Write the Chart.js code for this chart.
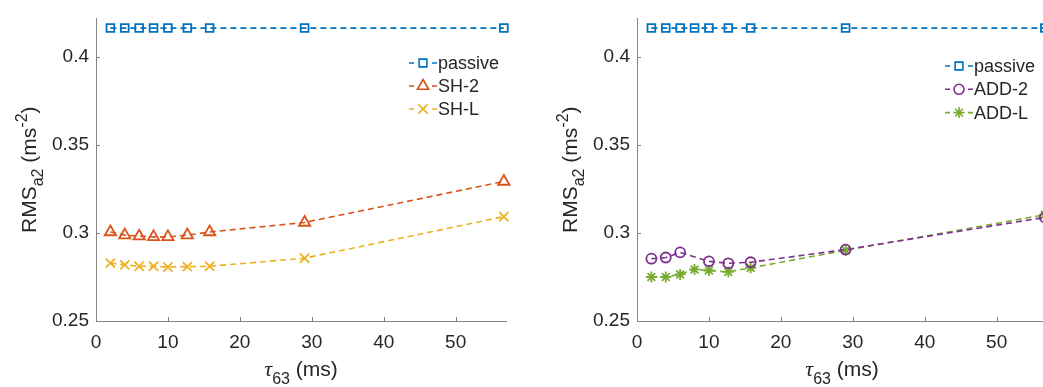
<!DOCTYPE html>
<html>
<head>
<meta charset="utf-8">
<script src="https://cdn.jsdelivr.net/npm/chart.js@4.4.1/dist/chart.umd.min.js"></script>
<style>
  html, body { margin: 0; padding: 0; background: #fff; }
  #wrap { position: relative; width: 1043px; height: 387px; overflow: hidden; }
  canvas { position: absolute; top: 0; }
  #left { left: 0; }
  #right { left: 541px; }
</style>
</head>
<body>
<div id="wrap">
  <canvas id="left" width="541" height="387"></canvas>
  <canvas id="right" width="541" height="387"></canvas>
</div>
<script>
// tau_63 (ms) values where each controller was evaluated
const tau = [2, 4, 6, 8, 10, 12.7, 15.8, 29, 56.7];

// RMS of a2 (m s^-2)
const passive = [0.4165, 0.4165, 0.4165, 0.4165, 0.4165, 0.4165, 0.4165, 0.4165, 0.4165];
const sh2 = [0.3006, 0.2988, 0.2982, 0.2978, 0.2978, 0.2988, 0.3006, 0.306, 0.3293];
const shL = [0.2829, 0.2819, 0.2811, 0.2811, 0.2807, 0.2809, 0.2811, 0.2857, 0.3093];
const add2 = [0.2854, 0.2861, 0.289, null, 0.2839, 0.2828, 0.2834, 0.2906, 0.3089];
const addL = [0.275, 0.275, 0.2765, 0.2793, 0.2787, 0.2779, 0.2802, 0.2902, 0.3104];

const xTicks = [0, 10, 20, 30, 40, 50];
const yTicks = [0.25, 0.3, 0.35, 0.4];

const FONT = '"Liberation Sans", Arial, Helvetica, sans-serif';
const INK = "#262626";
const AXIS = "#858585";

const C = {
  blue: "#0072BD",
  orange: "#D95319",
  yellow: "#EDB120",
  purple: "#7E2F8E",
  green: "#77AC30",
};

function pts(ys) {
  return tau.map((x, i) => ({ x, y: ys[i] }));
}

function series(label, ys, color, style, radius) {
  return {
    label,
    data: pts(ys),
    borderColor: color,
    backgroundColor: "rgba(0,0,0,0)",
    borderWidth: 1.6,
    borderDash: [6, 4],
    pointStyle: style,
    pointRadius: radius,
    pointBorderWidth: 1.8,
    pointBorderColor: color,
    pointBackgroundColor: "rgba(0,0,0,0)",
    tension: 0,
    spanGaps: true,
    clip: false,
  };
}

function axes() {
  return {
    x: {
      type: "linear",
      min: 0,
      max: 57,
      afterBuildTicks: (s) => { s.ticks = xTicks.map((v) => ({ value: v })); },
      afterFit: (s) => { s.height = 66; },
      grid: { display: false, drawTicks: false },
      border: { display: true, color: AXIS, width: 1 },
      ticks: {
        color: INK,
        font: { family: FONT, size: 19 },
        padding: 10,
        maxRotation: 0,
        autoSkip: false,
        callback: (v) => String(v),
      },
    },
    y: {
      type: "linear",
      min: 0.25,
      max: 0.422,
      afterBuildTicks: (s) => { s.ticks = yTicks.map((v) => ({ value: v })); },
      afterFit: (s) => { s.width = 96; },
      grid: { display: false, drawTicks: false },
      border: { display: true, color: AXIS, width: 1 },
      ticks: {
        color: INK,
        font: { family: FONT, size: 19 },
        padding: 7,
        autoSkip: false,
        callback: (v) => String(+v.toFixed(2)),
      },
    },
  };
}

function richText(ctx, parts, cx, y) {
  let w = 0;
  parts.forEach((p) => {
    ctx.font = p.font;
    p.w = ctx.measureText(p.t).width;
    w += p.w;
  });
  let x = cx - w / 2;
  ctx.textAlign = "left";
  ctx.textBaseline = "alphabetic";
  parts.forEach((p) => {
    ctx.font = p.font;
    ctx.fillText(p.t, x, y + p.dy);
    x += p.w;
  });
}

const big = `21px ${FONT}`;
const small = `16px ${FONT}`;

const yTitle = [
  { t: "RMS", font: big, dy: 0 },
  { t: "a2", font: small, dy: 7 },
  { t: " (ms", font: big, dy: 0 },
  { t: "-2", font: small, dy: -9 },
  { t: ")", font: big, dy: 0 },
];
const xTitle = [
  { t: "τ", font: `italic 22px "Liberation Serif", "DejaVu Serif", serif`, dy: 0 },
  { t: "63", font: small, dy: 8 },
  { t: " (ms)", font: big, dy: 0 },
];

// inner ticks, axis titles and a matlab-like legend
const frame = {
  id: "frame",
  afterDraw(chart, args, opts) {
    const { ctx, chartArea: a, scales } = chart;
    ctx.save();

    ctx.strokeStyle = AXIS;
    ctx.lineWidth = 1;
    ctx.beginPath();
    xTicks.forEach((v) => {
      const px = Math.round(scales.x.getPixelForValue(v)) + 0.5;
      ctx.moveTo(px, a.bottom);
      ctx.lineTo(px, a.bottom - 4);
    });
    yTicks.forEach((v) => {
      const py = Math.round(scales.y.getPixelForValue(v)) + 0.5;
      ctx.moveTo(a.left, py);
      ctx.lineTo(a.left + 4, py);
    });
    ctx.stroke();

    ctx.fillStyle = INK;
    ctx.save();
    ctx.translate(36, (a.top + a.bottom) / 2);
    ctx.rotate(-Math.PI / 2);
    richText(ctx, yTitle, 0, 0);
    ctx.restore();
    richText(ctx, xTitle, (a.left + a.right) / 2, 376);

    const lg = opts.legend;
    chart.data.datasets.forEach((ds, i) => {
      const x = lg.x;
      const y = lg.y + i * lg.dy;
      ctx.strokeStyle = ds.borderColor;
      ctx.lineWidth = 1.6;
      ctx.beginPath();
      ctx.moveTo(x - 14, y);
      ctx.lineTo(x - 9, y);
      ctx.moveTo(x + 9, y);
      ctx.lineTo(x + 14, y);
      ctx.stroke();
      ctx.fillStyle = "rgba(0,0,0,0)";
      if (Chart.helpers && Chart.helpers.drawPoint) {
        Chart.helpers.drawPoint(ctx, {
          pointStyle: ds.pointStyle,
          radius: ds.pointRadius,
          rotation: 0,
          borderWidth: 1.8,
        }, x, y);
      }
      ctx.fillStyle = INK;
      ctx.font = `18px ${FONT}`;
      ctx.textAlign = "left";
      ctx.textBaseline = "middle";
      ctx.fillText(ds.label, x + 15, y + 1);
    });

    ctx.restore();
  },
};

function makeChart(id, datasets, legend) {
  return new Chart(document.getElementById(id), {
    type: "line",
    data: { datasets },
    options: {
      responsive: false,
      animation: false,
      devicePixelRatio: 1,
      layout: { padding: { top: 13, right: 35, left: 0, bottom: 0 } },
      scales: axes(),
      plugins: {
        legend: { display: false },
        tooltip: { enabled: false },
        frame: { legend },
      },
    },
    plugins: [frame],
  });
}

makeChart("left", [
  series("passive", passive, C.blue, "rect", 5.5),
  series("SH-2", sh2, C.orange, "triangle", 6.5),
  series("SH-L", shL, C.yellow, "crossRot", 6.5),
], { x: 423, y: 63, dy: 23 });

makeChart("right", [
  series("passive", passive, C.blue, "rect", 5.5),
  series("ADD-2", add2, C.purple, "circle", 5),
  series("ADD-L", addL, C.green, "star", 5.5),
], { x: 418, y: 66, dy: 23.3 });
</script>
</body>
</html>
